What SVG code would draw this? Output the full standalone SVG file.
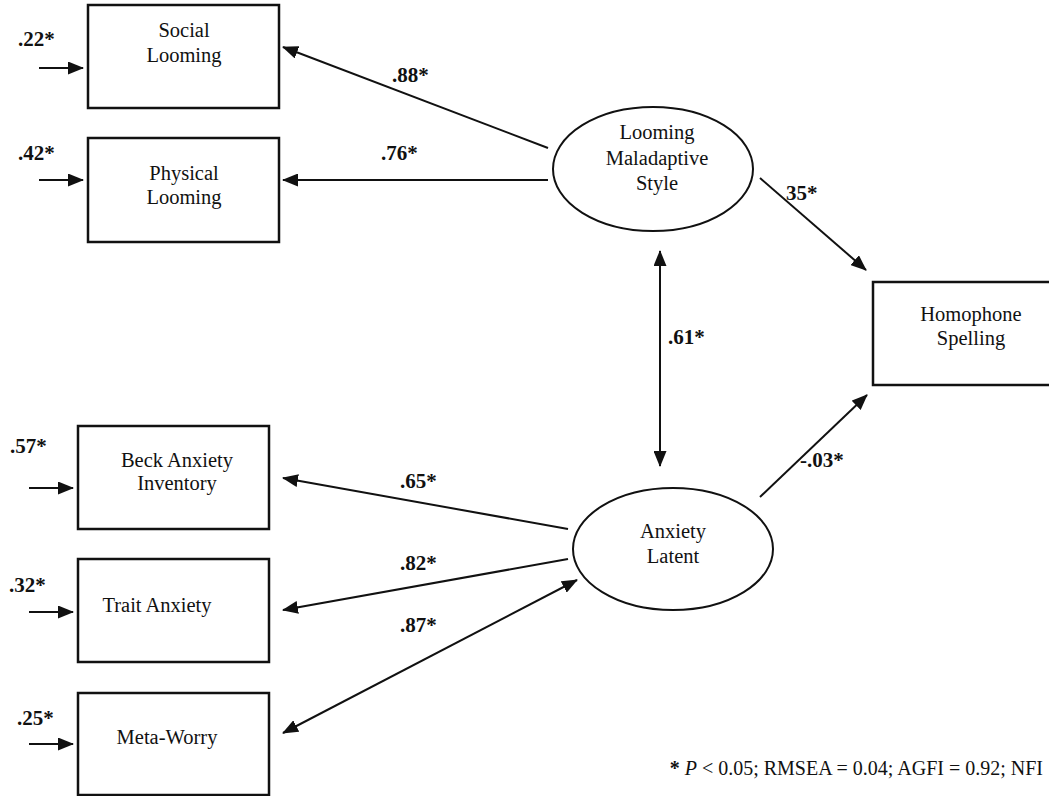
<svg xmlns="http://www.w3.org/2000/svg" width="1049" height="796" viewBox="0 0 1049 796">
  <style>
    .box { fill: #fff; stroke: #111; stroke-width: 2.5; }
    .lat { fill: #fff; stroke: #111; stroke-width: 2; }
    .lbl { font-family: "Liberation Serif", "Times New Roman", serif; font-size: 20.5px; fill: #111; text-anchor: middle; }
    .coef { font-family: "Liberation Serif", "Times New Roman", serif; font-size: 21px; font-weight: bold; fill: #111; }
    .edge { stroke: #111; stroke-width: 2; fill: none; }
    .note { font-family: "Liberation Serif", "Times New Roman", serif; font-size: 20px; fill: #111; }
  </style>
  <defs>
    <marker id="head" viewBox="0 0 16 13" refX="15" refY="6.5" markerWidth="16" markerHeight="13" markerUnits="userSpaceOnUse" orient="auto-start-reverse">
      <path d="M0,0 L16,6.5 L0,13 Z" fill="#111"/>
    </marker>
  </defs>
  <rect width="1049" height="796" fill="#fff"/>

  <!-- observed indicators -->
  <g id="social-looming">
    <rect class="box" x="88" y="5" width="191" height="103"/>
    <text class="lbl" x="184" y="37">Social</text>
    <text class="lbl" x="184" y="62">Looming</text>
  </g>
  <g id="physical-looming">
    <rect class="box" x="88" y="138" width="191" height="104"/>
    <text class="lbl" x="184" y="180">Physical</text>
    <text class="lbl" x="184" y="204">Looming</text>
  </g>
  <g id="beck-anxiety">
    <rect class="box" x="78" y="426" width="191" height="103"/>
    <text class="lbl" x="177" y="467">Beck Anxiety</text>
    <text class="lbl" x="177" y="490">Inventory</text>
  </g>
  <g id="trait-anxiety">
    <rect class="box" x="78" y="559" width="191" height="103"/>
    <text class="lbl" x="157" y="612">Trait Anxiety</text>
  </g>
  <g id="meta-worry">
    <rect class="box" x="78" y="693" width="191" height="102"/>
    <text class="lbl" x="167" y="744">Meta-Worry</text>
  </g>
  <g id="homophone-spelling">
    <!-- box runs past the right edge of the page -->
    <rect class="box" x="873" y="282" width="200" height="103"/>
    <text class="lbl" x="971" y="321">Homophone</text>
    <text class="lbl" x="971" y="345">Spelling</text>
  </g>

  <!-- latent factors -->
  <g id="looming-maladaptive-style">
    <ellipse class="lat" cx="653" cy="169" rx="100" ry="62"/>
    <text class="lbl" x="657" y="139">Looming</text>
    <text class="lbl" x="657" y="165">Maladaptive</text>
    <text class="lbl" x="657" y="190">Style</text>
  </g>
  <g id="anxiety-latent">
    <ellipse class="lat" cx="673" cy="549" rx="100" ry="61"/>
    <text class="lbl" x="673" y="538">Anxiety</text>
    <text class="lbl" x="673" y="563">Latent</text>
  </g>

  <!-- paths, residuals and coefficients -->
  <g id="connectors">
    <line class="edge" x1="548" y1="148" x2="283" y2="47" marker-end="url(#head)"/>
    <line class="edge" x1="548" y1="180" x2="283" y2="180" marker-end="url(#head)"/>
    <line class="edge" x1="760" y1="178" x2="866" y2="270" marker-end="url(#head)"/>
    <line class="edge" x1="660" y1="251" x2="660" y2="466" marker-start="url(#head)" marker-end="url(#head)"/>
    <line class="edge" x1="760" y1="497" x2="867" y2="395" marker-end="url(#head)"/>
    <line class="edge" x1="568" y1="529" x2="283" y2="478" marker-end="url(#head)"/>
    <line class="edge" x1="568" y1="559" x2="283" y2="610" marker-end="url(#head)"/>
    <line class="edge" x1="283" y1="733" x2="577" y2="580" marker-start="url(#head)" marker-end="url(#head)"/>

    <line class="edge" x1="39" y1="68" x2="83" y2="68" marker-end="url(#head)"/>
    <line class="edge" x1="39" y1="180" x2="83" y2="180" marker-end="url(#head)"/>
    <line class="edge" x1="29" y1="488" x2="73" y2="488" marker-end="url(#head)"/>
    <line class="edge" x1="29" y1="612" x2="73" y2="612" marker-end="url(#head)"/>
    <line class="edge" x1="29" y1="744" x2="73" y2="744" marker-end="url(#head)"/>

    <text class="coef" x="392" y="82">.88*</text>
    <text class="coef" x="381" y="160">.76*</text>
    <text class="coef" x="786" y="200">35*</text>
    <text class="coef" x="668" y="344">.61*</text>
    <text class="coef" x="800" y="467">-.03*</text>
    <text class="coef" x="400" y="488">.65*</text>
    <text class="coef" x="400" y="570">.82*</text>
    <text class="coef" x="400" y="632">.87*</text>

    <text class="coef" x="18" y="46">.22*</text>
    <text class="coef" x="18" y="160">.42*</text>
    <text class="coef" x="10" y="453">.57*</text>
    <text class="coef" x="9" y="592">.32*</text>
    <text class="coef" x="17" y="725">.25*</text>
  </g>

  <text class="note" x="1043" y="775" text-anchor="end"><tspan font-weight="bold">*</tspan> <tspan font-style="italic">P</tspan> &lt; 0.05; RMSEA = 0.04; AGFI = 0.92; NFI</text>
</svg>
